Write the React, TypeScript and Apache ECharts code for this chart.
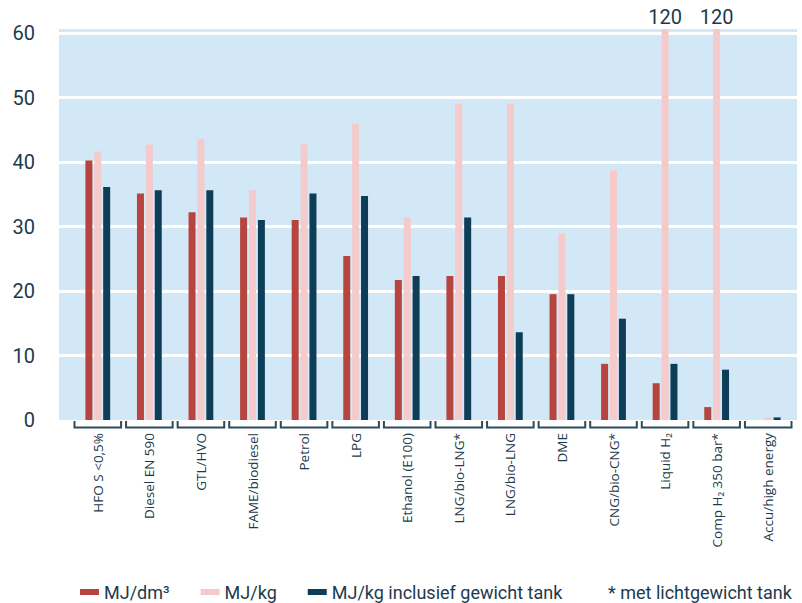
import React, { useEffect, useRef } from "react";
import * as echarts from "echarts";

const categories = [
  "HFO S <0,5%",
  "Diesel EN 590",
  "GTL/HVO",
  "FAME/biodiesel",
  "Petrol",
  "LPG",
  "Ethanol (E100)",
  "LNG/bio-LNG*",
  "LNG/bio-LNG",
  "DME",
  "CNG/bio-CNG*",
  "Liquid H₂",
  "Comp H₂ 350 bar*",
  "Accu/high energy",
];
const mjPerDm3 = [40.2, 35.1, 32.2, 31.4, 31.0, 25.4, 21.7, 22.3, 22.3, 19.5, 8.7, 5.7, 2.0, 0];
const mjPerKg = [41.6, 42.7, 43.5, 35.6, 42.7, 45.9, 31.4, 49.0, 49.0, 28.9, 38.7, 120, 120, 0.4];
const mjPerKgTank = [36.1, 35.6, 35.6, 31.0, 35.1, 34.7, 22.3, 31.4, 13.6, 19.5, 15.7, 8.7, 7.8, 0.4];
const seriesNames = ["MJ/dm³", "MJ/kg", "MJ/kg inclusief gewicht tank"];
const footnote = "* met lichtgewicht tank";
const yMin = 0;
const yMax = 60;
const yInterval = 10;

const TEXT = "#1d3a4c";
const RED = "#b7443e";
const PINK = "#f4cacb";
const NAVY = "#0e3d57";
const BG = "#d3e8f6";

export default function App() {
  const ref = useRef<HTMLDivElement>(null);
  useEffect(() => {
    if (!ref.current) return;
    const chart = echarts.init(ref.current, null, { renderer: "svg" });
    const barAxisMax = 60.6; // bar grid is 4px taller than the tick grid
    const pinkData = mjPerKg.map((v) =>
      v > yMax
        ? {
            value: v,
            label: {
              show: true,
              position: "top",
              distance: 2,
              fontSize: 20,
              color: TEXT,
              fontFamily: "Roboto, sans-serif",
            },
          }
        : v
    );
    const option: any = {
      animation: false,
      textStyle: { fontFamily: "Roboto, sans-serif" },
      graphic: {
        elements: [
          {
            type: "rect",
            z: -10,
            silent: true,
            shape: { x: 59, y: 29, width: 738, height: 391 },
            style: { fill: BG },
          },
          {
            type: "text",
            left: 608,
            top: 583,
            silent: true,
            style: { text: footnote, fontSize: 18, fill: TEXT, fontFamily: "Roboto, sans-serif" },
          },
        ],
      },
      grid: [
        { left: 59, top: 33, width: 738, height: 387 },
        { left: 72, top: 29, width: 722, height: 391 },
      ],
      xAxis: [
        { type: "value", gridIndex: 0, show: false, min: 0, max: 1 },
        {
          type: "category",
          gridIndex: 1,
          data: categories,
          axisLine: { show: false },
          axisTick: { show: false },
          axisLabel: {
            rotate: 90,
            interval: 0,
            margin: 13,
            fontSize: 13.5,
            fontFamily: "'Open Sans', 'Noto Sans', sans-serif",
            color: TEXT,
          },
        },
      ],
      yAxis: [
        {
          type: "value",
          gridIndex: 0,
          min: yMin,
          max: yMax,
          interval: yInterval,
          axisLine: { show: false },
          axisTick: { show: false },
          splitLine: { show: true, showMinLine: false, lineStyle: { color: "#ffffff", width: 3 } },
          axisLabel: {
            fontSize: 20,
            color: TEXT,
            margin: 24,
            padding: [0, 0, 6, 0],
            fontFamily: "Roboto, sans-serif",
          },
        },
        { type: "value", gridIndex: 1, min: 0, max: barAxisMax, show: false },
      ],
      legend: {
        left: 75,
        top: 578,
        itemWidth: 19,
        itemHeight: 6,
        itemGap: 31,
        icon: "rect",
        data: seriesNames,
        textStyle: { fontSize: 18, color: TEXT, fontFamily: "Roboto, sans-serif" },
      },
      series: [
        {
          name: seriesNames[0],
          type: "bar",
          xAxisIndex: 1,
          yAxisIndex: 1,
          data: mjPerDm3,
          barWidth: 7,
          barGap: "27%",
          itemStyle: { color: RED },
        },
        {
          name: seriesNames[1],
          type: "bar",
          xAxisIndex: 1,
          yAxisIndex: 1,
          data: pinkData,
          barWidth: 7,
          barGap: "27%",
          itemStyle: { color: PINK },
        },
        {
          name: seriesNames[2],
          type: "bar",
          xAxisIndex: 1,
          yAxisIndex: 1,
          data: mjPerKgTank,
          barWidth: 7,
          barGap: "27%",
          itemStyle: { color: NAVY },
        },
        {
          name: "brackets",
          type: "custom",
          xAxisIndex: 1,
          yAxisIndex: 1,
          clip: false,
          silent: true,
          data: categories.map((_, i) => [i, 0]),
          renderItem: (params: any, api: any) => {
            const p = api.coord([api.value(0), 0]);
            const bw = api.size([1, 0])[0];
            const l = p[0] - bw / 2 + 2.5;
            const r = p[0] + bw / 2 - 2.5;
            const y0 = p[1] + 1;
            return {
              type: "polyline",
              shape: { points: [[l, y0], [l, y0 + 6.5], [r, y0 + 6.5], [r, y0]] },
              style: { stroke: "#2f4a5b", lineWidth: 2, fill: null },
            };
          },
        },
      ],
    };
    chart.setOption(option);
    return () => chart.dispose();
  }, []);
  return (
    <div
      ref={ref}
      style={{ position: "absolute", left: 0, top: 0, width: 802, height: 603, background: "#ffffff" }}
    />
  );
}
